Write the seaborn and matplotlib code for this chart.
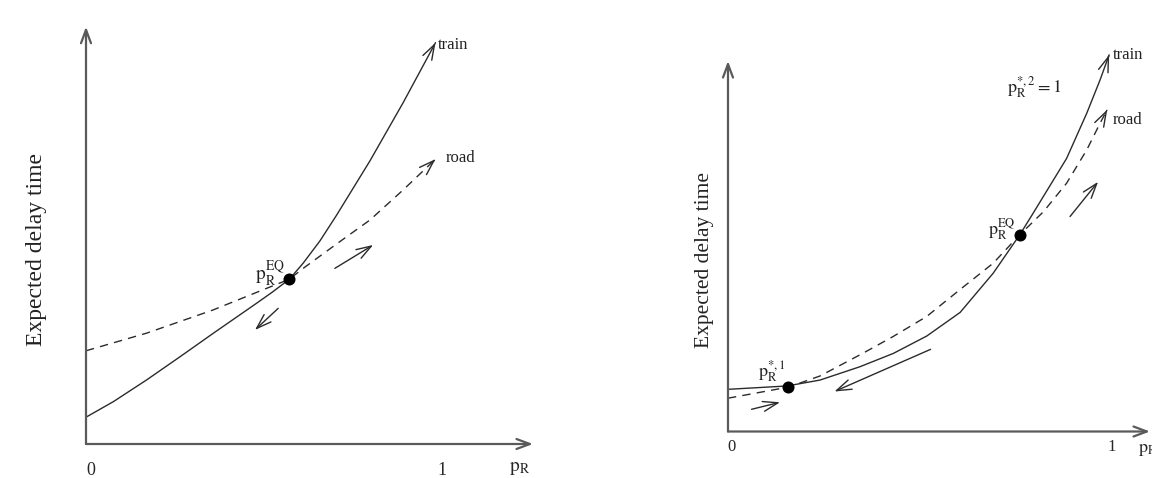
import matplotlib
matplotlib.use("Agg")
import matplotlib.pyplot as plt
import seaborn as sns

sns.set_theme(style="white")
plt.rcParams['font.family'] = ['Liberation Serif', 'DejaVu Serif']
plt.rcParams['mathtext.fontset'] = 'stix'

# ---------------- data ----------------
# Left panel
left_train_x = [0.0, 0.078, 0.172, 0.267, 0.362, 0.485, 0.530, 0.578, 0.617, 0.665, 0.712, 0.807, 0.901, 0.993]
left_train_y = [0.067, 0.106, 0.160, 0.218, 0.277, 0.352, 0.380, 0.412, 0.452, 0.508, 0.572, 0.708, 0.853, 1.003]
left_road_x = [0.0, 0.172, 0.361, 0.513, 0.578, 0.617, 0.712, 0.807, 0.901, 0.993]
left_road_y = [0.233, 0.277, 0.335, 0.389, 0.412, 0.439, 0.500, 0.560, 0.635, 0.712]
left_eq = (0.578, 0.412)
left_dir_arrows = [((0.546, 0.339), (0.480, 0.285)),
                   ((0.707, 0.439), (0.816, 0.4975))]

# Right panel
right_train_x = [0.0, 0.155, 0.242, 0.347, 0.435, 0.523, 0.611, 0.698, 0.768, 0.803, 0.891, 0.944, 0.979, 1.003]
right_train_y = [0.114, 0.123, 0.139, 0.175, 0.211, 0.258, 0.322, 0.428, 0.532, 0.590, 0.738, 0.860, 0.950, 1.018]
right_road_x = [0.0, 0.159, 0.242, 0.356, 0.435, 0.523, 0.611, 0.698, 0.768, 0.830, 0.891, 0.944, 0.979, 0.998]
right_road_y = [0.090, 0.120, 0.150, 0.212, 0.257, 0.311, 0.384, 0.455, 0.532, 0.594, 0.671, 0.761, 0.833, 0.870]
right_p1 = (0.159, 0.120)
right_eq = (0.768, 0.532)
right_dir_arrows = [((0.062, 0.060), (0.137, 0.079)),
                    ((0.533, 0.222), (0.280, 0.108)),
                    ((0.900, 0.581), (0.974, 0.675))]

tick_labels = ["0", "1"]
ylabel_text = "Expected delay time"

# ---------------- style ----------------
CURVE = "#2b2b2b"
AXIS = "#5a5a5a"

fig = plt.figure(figsize=(11.52, 4.78), dpi=100)
axL = fig.add_axes([0.07465, 0.07113, 0.38802, 0.87301])
axR = fig.add_axes([0.63194, 0.09728, 0.36632, 0.77510])
axL.set_xlim(0, 1.27); axL.set_ylim(0, 1.043)
axR.set_xlim(0, 1.1105); axR.set_ylim(0, 1.0014)


def setup(ax):
    ax.set_facecolor("none")
    for s in ax.spines.values():
        s.set_visible(False)
    ax.set_xticks([]); ax.set_yticks([])
    ax.set_xlabel(""); ax.set_ylabel("")
    ap = dict(arrowstyle="->,head_length=0.8,head_width=0.3", lw=1.6, color=AXIS,
              shrinkA=0, shrinkB=0)
    ax.annotate("", xy=(0, 1), xycoords="axes fraction", xytext=(0, 0),
                textcoords="axes fraction", arrowprops=ap, annotation_clip=False)
    ax.annotate("", xy=(1, 0), xycoords="axes fraction", xytext=(0, 0),
                textcoords="axes fraction", arrowprops=ap, annotation_clip=False)


def curve(ax, xs, ys, dashed):
    sns.lineplot(x=xs, y=ys, ax=ax, color=CURVE, lw=1.0, sort=False, estimator=None,
                 linestyle="--" if dashed else "-", legend=False)
    if dashed:
        ax.lines[-1].set_dashes((6, 4.5))
    ax.lines[-1].set_clip_on(False)
    ax.lines[-1].set_solid_joinstyle("round")
    # open arrowhead at curve end
    x1, y1 = xs[-1], ys[-1]
    x0, y0 = xs[-2], ys[-2]
    t = 0.05
    ax.annotate("", xy=(x1, y1), xytext=(x1 - t * (x1 - x0), y1 - t * (y1 - y0)),
                arrowprops=dict(arrowstyle="->,head_length=0.9,head_width=0.3", lw=1.0,
                                color=CURVE, shrinkA=0, shrinkB=0),
                annotation_clip=False)


def dir_arrows(ax, arrows):
    for (a, b) in arrows:
        ax.annotate("", xy=b, xytext=a,
                    arrowprops=dict(arrowstyle="->,head_length=0.9,head_width=0.3", lw=1.0,
                                    color=CURVE, shrinkA=0, shrinkB=0),
                    annotation_clip=False)


def dots(ax, pts):
    sns.scatterplot(x=[p[0] for p in pts], y=[p[1] for p in pts], ax=ax, color="black",
                    s=75, edgecolor="black", linewidth=0, zorder=5, legend=False, clip_on=False)


# ---------- left panel ----------
setup(axL)
curve(axL, left_train_x, left_train_y, False)
curve(axL, left_road_x, left_road_y, True)
dots(axL, [left_eq])
dir_arrows(axL, left_dir_arrows)
axL.text(1.0, 0.998, "train", fontsize=12, ha="left", va="center", color="#222")
axL.text(1.023, 0.715, "road", fontsize=12, ha="left", va="center", color="#222")
axL.text(0.565, 0.425, r"$\mathrm{p}_\mathrm{R}^\mathrm{EQ}$", fontsize=14, ha="right",
         va="center", color="#222")
axL.text(0.014, -0.065, tick_labels[0], fontsize=13, ha="center", va="center", clip_on=False)
axL.text(1.01, -0.065, tick_labels[1], fontsize=13, ha="center", va="center", clip_on=False)
axL.text(1.233, -0.062, r"$\mathrm{p}_\mathrm{R}$", fontsize=14, ha="center", va="center",
         clip_on=False)
fig.text(37 / 1152, 1 - 250 / 478, ylabel_text, rotation=90, fontsize=17,
         ha="center", va="center", color="#222")

# ---------- right panel ----------
setup(axR)
curve(axR, right_train_x, right_train_y, False)
curve(axR, right_road_x, right_road_y, True)
dots(axR, [right_p1, right_eq])
dir_arrows(axR, right_dir_arrows)
axR.text(1.013, 1.018, "train", fontsize=12, ha="left", va="center", color="#222")
axR.text(1.013, 0.842, "road", fontsize=12, ha="left", va="center", color="#222")
axR.text(0.734, 0.93, r"$\mathrm{p}_\mathrm{R}^{*,2}=1$", fontsize=13, ha="left",
         va="center", color="#222")
axR.text(0.757, 0.545, r"$\mathrm{p}_\mathrm{R}^\mathrm{EQ}$", fontsize=13, ha="right",
         va="center", color="#222")
axR.text(0.079, 0.16, r"$\mathrm{p}_\mathrm{R}^{*,1}$", fontsize=13, ha="left",
         va="center", color="#222")
axR.text(0.01, -0.042, tick_labels[0], fontsize=12, ha="center", va="center", clip_on=False)
axR.text(1.01, -0.042, tick_labels[1], fontsize=12, ha="center", va="center", clip_on=False)
axR.text(1.079, -0.05, r"$\mathrm{p}_\mathrm{R}$", fontsize=13, ha="left", va="center",
         clip_on=False)
fig.text(704.7 / 1152, 1 - 260 / 478, ylabel_text, rotation=90, fontsize=15.5,
         ha="center", va="center", color="#222")

fig.savefig("out.png", dpi=100)
